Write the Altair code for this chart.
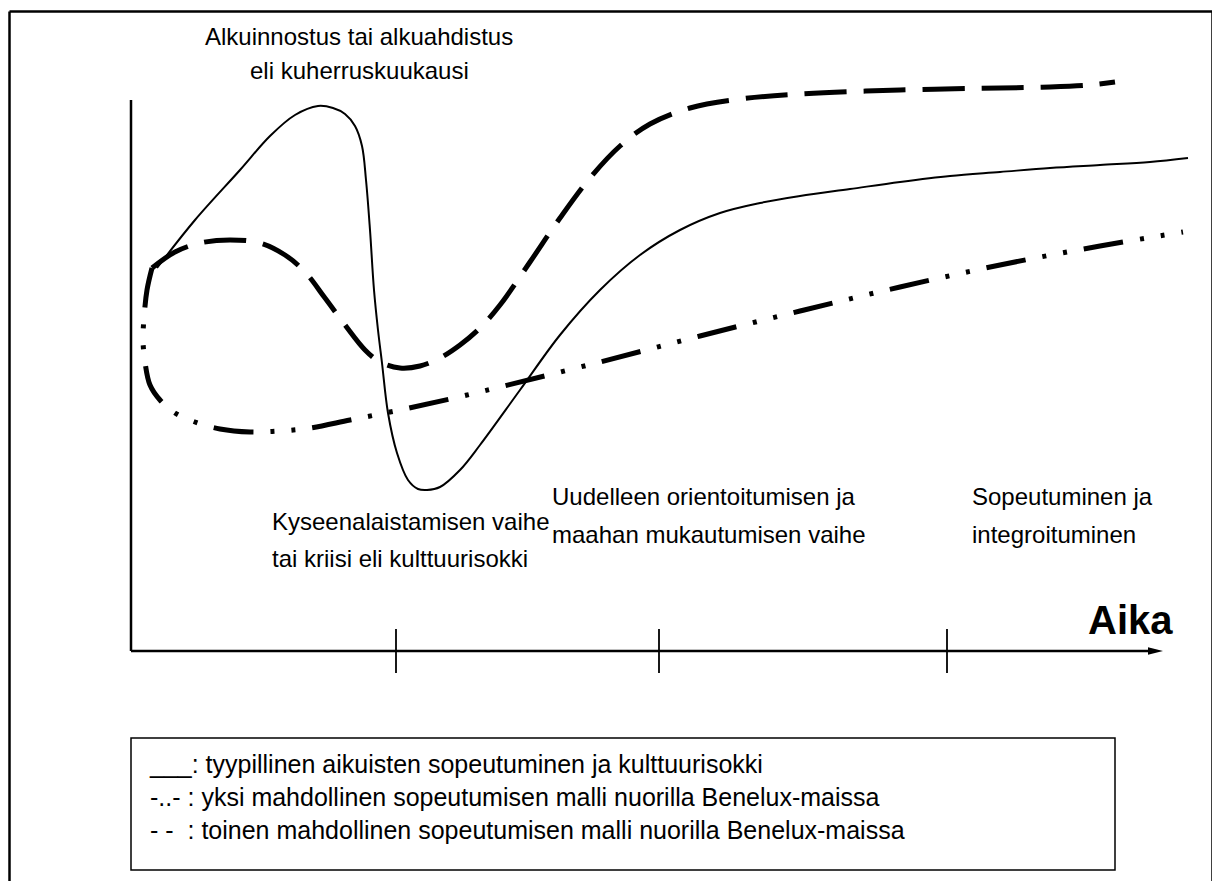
import altair as alt
import pandas as pd

# ---- coordinate frame (time t, feeling v); axis corner at (0, 0) ----
T_DOMAIN = [-12.3, 108.1]
V_DOMAIN = [-23.0, 64.3]

# Typical adult adaptation (solid)
solid_t = [2.6, 6.4, 10.9, 13.9, 16.4, 18.7, 20.2, 21.4, 22.4, 23.1, 23.5, 23.9, 24.3, 24.7,
           25.1, 25.7, 26.6, 27.7, 28.7, 29.6, 30.9, 32.9, 34.9, 38.9, 42.9, 46.9, 50.9,
           54.9, 58.9, 62.9, 66.9, 71.9, 76.9, 81.9, 86.9, 91.9, 96.9, 101.9, 105.7]
solid_v = [38.3, 43.1, 48.1, 51.5, 53.6, 54.5, 54.3, 53.7, 52.5, 50.5, 47.1, 42.1, 36.1, 32.1,
           28.8, 23.8, 19.8, 17.1, 16.2, 16.1, 16.4, 18.1, 20.6, 26.1, 31.6, 36.1, 39.6,
           42.1, 43.8, 44.8, 45.5, 46.2, 46.9, 47.5, 47.9, 48.3, 48.6, 48.9, 49.3]

# Second possible model (long dashes)
dash_t = [2.1, 4.4, 6.9, 9.9, 12.9, 15.4, 17.4, 19.4, 21.4, 23.4, 24.9, 26.9, 28.9, 30.9,
          32.9, 34.9, 36.9, 39.9, 42.9, 45.9, 48.9, 51.9, 55.9, 60.9, 66.9, 76.9, 86.9,
          91.9, 95.9, 98.4]
dash_v = [38.3, 39.9, 40.8, 41.1, 40.8, 39.6, 37.9, 35.3, 32.6, 30.1, 28.9, 28.3, 28.5, 29.3,
          30.6, 32.3, 34.6, 38.9, 43.3, 47.3, 50.5, 52.7, 54.3, 55.2, 55.7, 56.1, 56.3,
          56.4, 56.6, 56.9]

# One possible model (dash-dot)
dd_t = [2.1, 1.6, 1.3, 1.2, 1.4, 1.9, 2.9, 4.4, 6.4, 8.9, 11.9, 14.9, 17.9, 21.9, 26.9,
        31.9, 36.9, 46.9, 56.9, 66.9, 76.9, 86.9, 96.9, 105.2]
dd_v = [38.3, 36.1, 33.3, 31.1, 28.9, 26.6, 25.1, 23.8, 22.9, 22.2, 21.9, 22.0, 22.3, 23.1,
        24.1, 25.2, 26.4, 28.9, 31.5, 34.0, 36.4, 38.6, 40.5, 41.9]

# Phase boundaries on the time axis
phase_ticks = [26.5, 52.8, 81.6]

# Annotations
labels = ["Alkuinnostus tai alkuahdistus", "eli kuherruskuukausi",
          "Kyseenalaistamisen vaihe", "tai kriisi eli kulttuurisokki",
          "Uudelleen orientoitumisen ja", "maahan mukautumisen vaihe",
          "Sopeutuminen ja", "integroituminen"]
label_t = [7.4, 11.9, 14.1, 14.1, 42.1, 42.1, 84.1, 84.1]
label_v = [61.3, 57.9, 12.8, 9.1, 15.3, 11.5, 15.3, 11.5]

legend_lines = ["___: tyypillinen aikuisten sopeutuminen ja kulttuurisokki",
                "-..- : yksi mahdollinen sopeutumisen malli nuorilla Benelux-maissa",
                "- -\u00a0\u00a0: toinen mahdollinen sopeutumisen malli nuorilla Benelux-maissa"]
legend_t = [1.9, 1.9, 1.9]
legend_v = [-11.4, -14.7, -18.0]

FONT = "Liberation Sans"

xs = alt.Scale(domain=T_DOMAIN, nice=False, zero=False)
ys = alt.Scale(domain=V_DOMAIN, nice=False, zero=False)
X = lambda f: alt.X(f, type="quantitative", scale=xs, axis=None)
Y = lambda f: alt.Y(f, type="quantitative", scale=ys, axis=None)
X2 = lambda f: alt.X2(f)
Y2 = lambda f: alt.Y2(f)


def curve(ts, vs, **kw):
    df = pd.DataFrame({"t": ts, "v": vs, "o": range(len(ts))})
    return alt.Chart(df).mark_line(color="black", interpolate="catmull-rom", **kw).encode(
        x=X("t"), y=Y("v"), order=alt.Order("o:Q"))


solid = curve(solid_t, solid_v, strokeWidth=2)
dashed = curve(dash_t, dash_v, strokeWidth=5, strokeDash=[42, 17])
dashdot = curve(dd_t, dd_v, strokeWidth=5, strokeDash=[40, 17, 4, 17, 4, 17])

# Axes
axes_df = pd.DataFrame({"t": [0, 0], "v": [0, 0], "t2": [0, 101.9], "v2": [55.1, 0]})
axes = alt.Chart(axes_df).mark_rule(color="black", strokeWidth=2.5).encode(
    x=X("t"), y=Y("v"), x2=X2("t2"), y2=Y2("v2"))

ticks_df = pd.DataFrame({"t": phase_ticks, "v": [2.2] * 3, "v2": [-2.2] * 3})
ticks = alt.Chart(ticks_df).mark_rule(color="black", strokeWidth=1.8).encode(
    x=X("t"), y=Y("v"), y2=Y2("v2"))

arrow_df = pd.DataFrame({"t": [102.45], "v": [0]})
arrow = alt.Chart(arrow_df).mark_point(
    shape="M-1,-0.5L1,0L-1,0.5Z", size=225, filled=True, color="black", opacity=1
).encode(x=X("t"), y=Y("v"))

# Outer frame (left, top, right)
frame_df = pd.DataFrame({"t": [-12.15, -12.15, 108.15], "v": [-24, 63.95, -24],
                         "t2": [-12.15, 108.15, 108.15], "v2": [63.95, 63.95, 63.95]})
frame = alt.Chart(frame_df).mark_rule(color="black", strokeWidth=2.5).encode(
    x=X("t"), y=Y("v"), x2=X2("t2"), y2=Y2("v2"))

# Legend box
lbox_df = pd.DataFrame({"t": [0], "v": [-8.7], "t2": [98.4], "v2": [-21.9]})
lbox = alt.Chart(lbox_df).mark_rect(fill="white", stroke="black", strokeWidth=1.5).encode(
    x=X("t"), y=Y("v"), x2=X2("t2"), y2=Y2("v2"))

ann = alt.Chart(pd.DataFrame({"s": labels, "t": label_t, "v": label_v})).mark_text(
    align="left", baseline="middle", font=FONT, fontSize=24, color="black"
).encode(x=X("t"), y=Y("v"), text="s:N")

aika = alt.Chart(pd.DataFrame({"s": ["Aika"], "t": [95.7], "v": [2.9]})).mark_text(
    align="left", baseline="middle", font=FONT, fontSize=40, fontWeight="bold", color="black"
).encode(x=X("t"), y=Y("v"), text="s:N")

leg = alt.Chart(pd.DataFrame({"s": legend_lines, "t": legend_t, "v": legend_v})).mark_text(
    align="left", baseline="middle", font=FONT, fontSize=25, color="black"
).encode(x=X("t"), y=Y("v"), text="s:N")

chart = alt.layer(frame, lbox, axes, ticks, arrow, dashdot, dashed, solid, ann, aika, leg).properties(
    width=1204, height=873, padding=0, autosize=alt.AutoSizeParams(type="none"),
    background="white"
).configure_view(stroke=None)

chart.save("out.html", embed_options={"renderer": "svg", "actions": False})
